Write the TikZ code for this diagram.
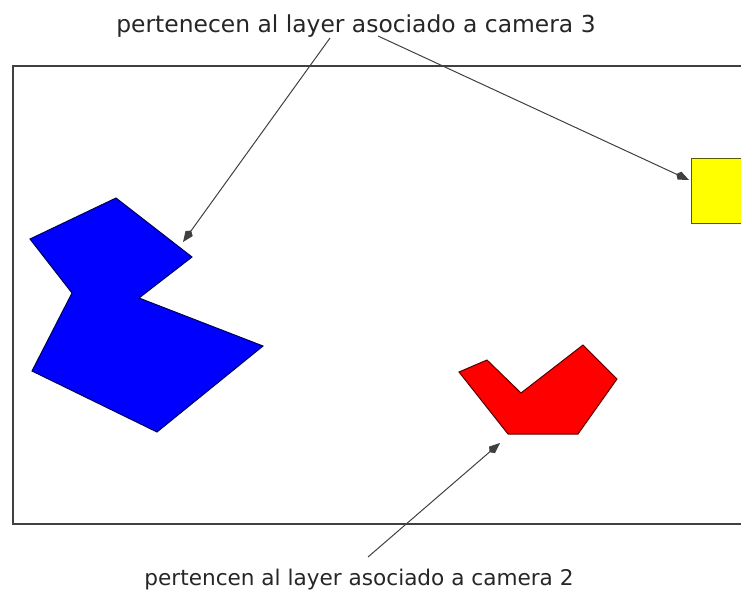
\documentclass[tikz,border=0pt]{standalone}
\usepackage{fontspec}
\setmainfont{DejaVu Sans}
\usetikzlibrary{arrows.meta}
\definecolor{amar}{RGB}{255,255,0}

\begin{document}
\begin{tikzpicture}[
  x=0.5pt, y=-0.5pt,
  lbl/.style={font=\fontsize{#1}{14}\selectfont, inner sep=0pt, text=black!85},
  marco/.style={draw=black!75, line width=1pt},
  forma/.style={draw=#1!35!black, fill=#1, line width=0.5pt},
  arr/.style={-{Kite[length=7pt, width=4.4pt]}, black!75, line width=0.5pt},
]
\clip (0,0) rectangle (741,595);

% ---------- Marco (el lienzo) ----------
\draw[marco] (13,66) rectangle (780,524);

% ---------- Figuras ----------
\draw[forma=blue] (30,239) -- (116,198) -- (192,257) -- (139,298)
  -- (263,346) -- (157,432) -- (32,371) -- (72,293) -- cycle;
\draw[forma=red] (459,372) -- (487,360) -- (521,393) -- (583,345)
  -- (617,379) -- (578,434) -- (508,434) -- cycle;
\draw[forma=amar] (691,158) rectangle (780,223);

% ---------- Textos ----------
\node[lbl=11.7] (cam3) at (356,26) {pertenecen al layer asociado a camera 3};
\node[lbl=10.8] (cam2) at (359,580) {pertencen al layer asociado a camera 2};

% ---------- Puntos de las flechas ----------
\coordinate (s1) at (330,38);
\coordinate (s2) at (378,36);
\coordinate (s3) at (368,557);
\coordinate (azul) at (183,242);
\coordinate (amarillo) at (689,180);
\coordinate (rojo) at (500,443);

% ---------- Flechas ----------
\draw[arr] (s1) -- (azul);
\draw[arr] (s2) -- (amarillo);
\draw[arr] (s3) -- (rojo);
\end{tikzpicture}
\end{document}
